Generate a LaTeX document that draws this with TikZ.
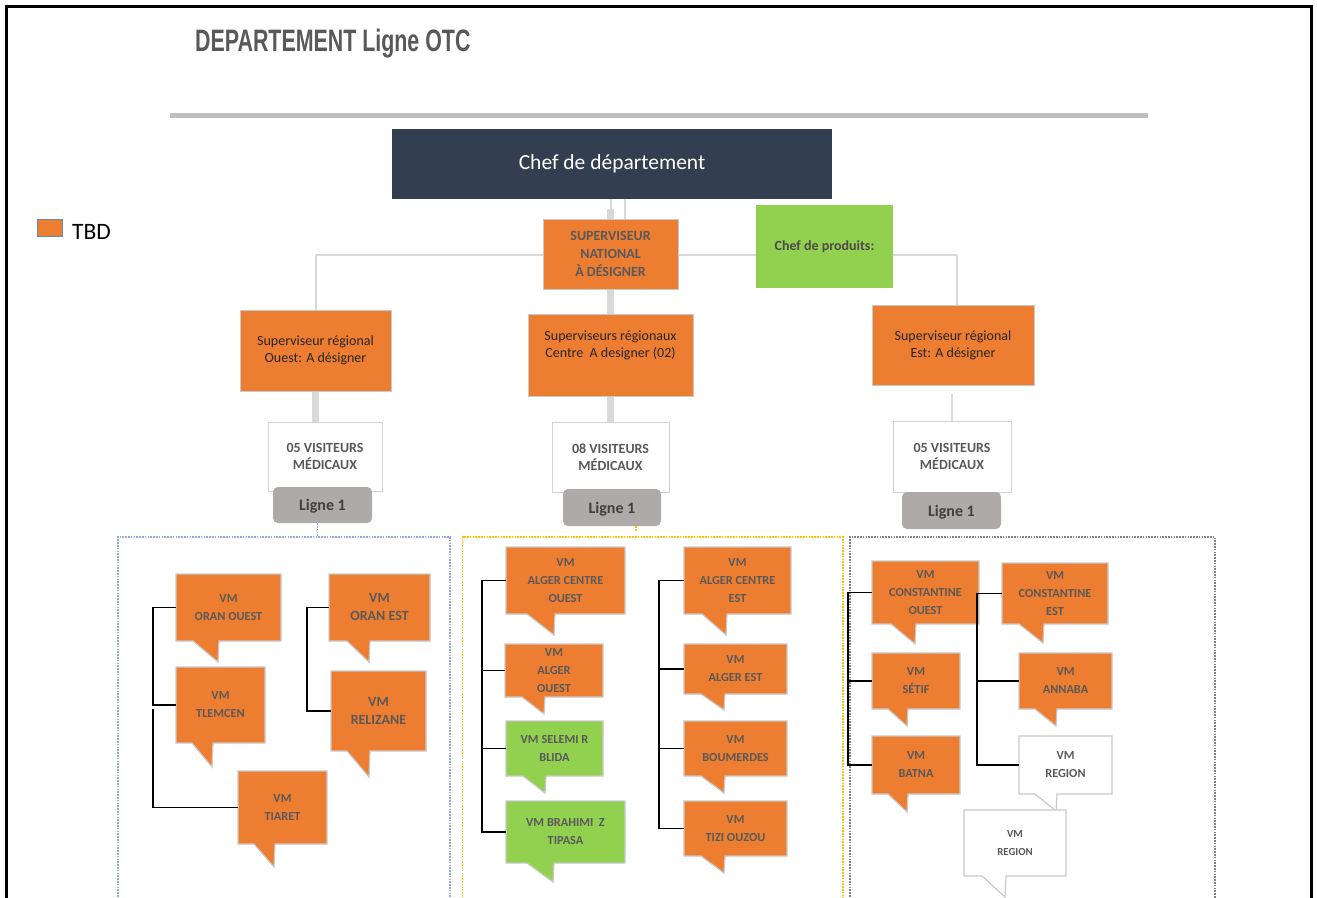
\documentclass[tikz,border=0pt]{standalone}
\usepackage{fontspec}
\usepackage{graphicx}
\setmainfont{Carlito}
\newfontfamily\titlefont{Liberation Sans}
\usetikzlibrary{calc,backgrounds}

\definecolor{tbdOrange}{HTML}{ED7D31}
\definecolor{okGreen}{HTML}{92D050}
\definecolor{slate}{HTML}{333F50}
\definecolor{txtGray}{HTML}{595959}
\definecolor{lineGray}{HTML}{C9C9C9}
\definecolor{linkGray}{HTML}{D9D9D9}
\definecolor{tagGray}{HTML}{AEAAAA}
\definecolor{ruleGray}{HTML}{BFBFBF}
\definecolor{dotBlue}{HTML}{8FAADC}
\definecolor{dotGold}{HTML}{FFC000}
\definecolor{dotGray}{HTML}{7F7F7F}
\definecolor{legendEdge}{HTML}{5B8BC4}

% speech-bubble box: name, style, left, top, right, bottom, tail start x, tip x, tip y
% the text follows the call as {...};
\newcommand\vmbubble[9]{%
  \draw[#2] (#3,#4) -- (#5,#4) -- (#5,#6) -- (#8+1,#6) -- (#8,#9) -- (#7,#6) -- (#3,#6) -- cycle;
  \node[#2 text] (#1) at ({(#3+#5)/2},{(#4+#6)/2})
    [minimum width={(#5-#3)*1pt}, minimum height={(#6-#4)*1pt}]}

\tikzset{
  bubble/.style={draw=lineGray, line width=1.2pt, line join=miter},
  vmtext/.style={inner sep=0, align=center, text=txtGray,
    font=\bfseries\fontsize{12.3}{18}\selectfont},
  vmo/.style={bubble, fill=tbdOrange},
  vmo text/.style={vmtext},
  vmob/.style={bubble, fill=tbdOrange},
  vmob text/.style={vmtext, font=\bfseries\fontsize{14}{18}\selectfont},
  vmg/.style={bubble, fill=okGreen},
  vmg text/.style={vmtext},
  vmw/.style={bubble, fill=white},
  vmw text/.style={vmtext},
  vmws/.style={bubble, fill=white},
  vmws text/.style={vmtext, font=\bfseries\fontsize{10.8}{18}\selectfont},
  regbox/.style={draw=lineGray, line width=0.6pt, fill=tbdOrange, inner sep=0},
  regtext/.style={inner sep=0, align=center, text=black!85,
    font=\fontsize{14}{17}\selectfont},
  visbox/.style={draw=lineGray!80, fill=white, line width=1pt, inner sep=0,
    align=center, text=txtGray, font=\bfseries\fontsize{14}{17}\selectfont},
  tagbox/.style={fill=tagGray, rounded corners=5pt, inner sep=0, text depth=0pt,
    text=black!75, font=\bfseries\fontsize{16}{18}\selectfont},
  linkthin/.style={linkGray, line width=2pt},
  linkthick/.style={linkGray, line width=6.5pt},
  conn/.style={black, line width=1.3pt},
  zoneblue/.style={dotBlue, line width=1.6pt, dash pattern=on 1.6pt off 1.2pt},
  zonegold/.style={dotGold, line width=1.6pt, dash pattern=on 1.6pt off 1.2pt},
  zonegray/.style={dotGray, line width=1.6pt, dash pattern=on 1.6pt off 1.2pt},
}

\begin{document}
\begin{tikzpicture}[x=1pt,y=-1pt]
\useasboundingbox (0,0) rectangle (1317,897);
\clip (0,0) rectangle (1317,897);

% page frame
\draw[line width=3pt] (6.5,905) -- (6.5,6) -- (1311.5,6) -- (1311.5,905);

% heading and rule
\node[anchor=base west, inner sep=0, text=txtGray,
  font=\titlefont\bfseries\fontsize{31}{31}\selectfont] (title) at (195,51)
  {\scalebox{0.69}[1]{DEPARTEMENT Ligne OTC}};
\draw[ruleGray, line width=4.5pt] (170,115.5) -- (1148,115.5);

% legend
\node[draw=legendEdge, fill=tbdOrange, line width=1pt, inner sep=0,
  minimum width=25pt, minimum height=17pt] (tbdkey) at (49.5,227.5) {};
\node[anchor=west, inner sep=0, font=\fontsize{23.5}{24}\selectfont] (tbdlabel) at (72,232) {TBD};

% management level
\node[fill=slate, inner sep=0, minimum width=440pt, minimum height=70pt,
  text=white, font=\fontsize{21.5}{24}\selectfont] (chef) at (612,164) {Chef de département};
\node[regbox, minimum width=135pt, minimum height=70pt, align=center, text=txtGray,
  font=\bfseries\fontsize{14}{18}\selectfont] (nat) at (610.5,254) {SUPERVISEUR\\NATIONAL\\À DÉSIGNER};
\node[fill=okGreen, inner sep=0, minimum width=137pt, minimum height=83pt, text=black!70,
  font=\bfseries\fontsize{14}{18}\selectfont] (cdp) at (824.5,246.5) {Chef de produits:};

% regional supervisors
\node[regbox, regtext, minimum width=151pt, minimum height=81pt] (regO) at (315.5,350.5)
  {Superviseur régional\\Ouest: A désigner};
\node[regbox, minimum width=165pt, minimum height=82pt] (regC) at (610.5,355) {};
\node[regtext] (regCt) at (610.5,345) {Superviseurs régionaux\\Centre~ A designer (02)};
\node[regbox, regtext, minimum width=162pt, minimum height=80pt] (regE) at (953,345)
  {Superviseur régional\\Est: A désigner};

% medical visitor teams
\node[visbox, minimum width=114pt, minimum height=69pt] (visO) at (325,456.5) {05 VISITEURS\\MÉDICAUX};
\node[visbox, minimum width=117pt, minimum height=70pt] (visC) at (610.5,457) {08 VISITEURS\\MÉDICAUX};
\node[visbox, minimum width=118pt, minimum height=71pt] (visE) at (952,456.5) {05 VISITEURS\\MÉDICAUX};

\node[tagbox, minimum width=99pt, minimum height=36pt] (tagO) at (322.5,505) {Ligne 1};
\node[tagbox, minimum width=98pt, minimum height=37pt] (tagC) at (612,507.5) {Ligne 1};
\node[tagbox, minimum width=99pt, minimum height=37pt] (tagE) at (951.5,510.5) {Ligne 1};

% dotted zones
\draw[zoneblue] (118,905) -- (118,537) -- (450,537) -- (450,905);
\draw[zonegold] (462.5,905) -- (462.5,537) -- (843,537) -- (843,905);
\draw[zonegray] (850,905) -- (850,537) -- (1215,537) -- (1215,905);
\draw[zoneblue] ([xshift=-5pt]tagO.south) -- ++(0,14);
\draw[zonegold] ([xshift=24pt]tagC.south) -- ++(0,5);

% west zone
\vmbubble{oo}{vmo}{176}{574}{281}{641}{193}{218}{662} {VM\\ORAN OUEST};
\vmbubble{oe}{vmob}{329}{574}{430}{641}{347}{369}{662} {VM\\ORAN EST};
\vmbubble{tl}{vmo}{176}{667}{265}{743}{192}{212}{767} {VM\\TLEMCEN};
\vmbubble{rz}{vmob}{331}{671}{426}{751}{347}{369}{777} {VM\\RELIZANE};
\vmbubble{ti}{vmo}{238}{771}{327}{844}{254}{274}{867} {VM\\TIARET};

% centre zone
\vmbubble{aco}{vmo}{506}{547}{625}{614}{527}{554}{635} {VM\\ALGER CENTRE\\OUEST};
\vmbubble{ao}{vmo}{505}{644}{603}{697}{522}{544}{714} {VM\\ALGER\\OUEST};
\vmbubble{sb}{vmg}{506}{721}{603}{776}{523}{545}{793} {VM SELEMI R\\BLIDA};
\vmbubble{bt}{vmg}{506}{801}{625}{863}{527}{553}{882} {VM BRAHIMI~~Z\\TIPASA};
\vmbubble{ace}{vmo}{684}{547}{791}{614}{702}{726}{635} {VM\\ALGER CENTRE\\EST};
\vmbubble{ae}{vmo}{684}{644}{787}{694}{701}{724}{710} {VM\\ALGER EST};
\vmbubble{bm}{vmo}{684}{721}{787}{776}{701}{724}{793} {VM\\BOUMERDES};
\vmbubble{tz}{vmo}{684}{801}{787}{856}{701}{724}{873} {VM\\TIZI OUZOU};

% east zone
\vmbubble{cno}{vmo}{872}{561}{979}{624}{891}{915}{644} {VM\\CONSTANTINE\\OUEST};
\vmbubble{cne}{vmo}{1002}{563}{1108}{624}{1019}{1043}{643} {VM\\CONSTANTINE\\EST};
\vmbubble{st}{vmo}{872}{653}{960}{709}{888}{907}{726} {VM\\SÉTIF};
\vmbubble{bn}{vmo}{872}{736}{960}{794}{888}{907}{812} {VM\\BATNA};
\vmbubble{an}{vmo}{1019}{653}{1112}{709}{1035}{1056}{726} {VM\\ANNABA};
\vmbubble{rg}{vmw}{1019}{736}{1112}{794}{1035}{1056}{811} {VM\\REGION};
\vmbubble{rg2}{vmws}{964}{810}{1066}{876}{982}{1005}{897} {VM\\REGION};

% bracket connectors inside the zones
\coordinate (lbar) at (153,0);
\coordinate (lbarlow) at (153,709);
\coordinate (rbar) at (307,0);
\coordinate (cbar) at (482,0);
\coordinate (dbar) at (659,0);
\coordinate (ebar) at (848,0);
\coordinate (fbar) at (977,0);

\draw[conn] (oo.west) -- (oo.west -| lbar) |- (tl.west);
\draw[conn] (lbarlow) |- (ti.west);
\draw[conn] (oe.west) -- (oe.west -| rbar) |- (rz.west);

\draw[conn] (aco.west) -- (aco.west -| cbar) |- (bt.west);
\draw[conn] (ao.west) -- (ao.west -| cbar);
\draw[conn] (sb.west) -- (sb.west -| cbar);

\draw[conn] (ace.west) -- (ace.west -| dbar) |- (tz.west);
\draw[conn] (ae.west) -- (ae.west -| dbar);
\draw[conn] (bm.west) -- (bm.west -| dbar);

\draw[conn] (cno.west) -- (cno.west -| ebar) |- (bn.west);
\draw[conn] (st.west) -- (st.west -| ebar);

\draw[conn] (cne.west) -- (cne.west -| fbar) |- (rg.west);
\draw[conn] (an.west) -- (an.west -| fbar);

% hierarchy links, behind the boxes
\begin{scope}[on background layer]
  \fill[white] (0,0) rectangle (1317,897);
  \coordinate (hl) at (315.5,255);
  \coordinate (hr) at (957,255);
  \coordinate (cj) at (625,255);
  \draw[linkthin] (hl) -- (hr);
  \draw[linkthin] (hl) -- (regO.north);
  \draw[linkthin] (hr) -- (hr |- regE.north);
  \draw[linkthin] (cj |- chef.south) -- (cj);
  \draw[linkthin] (nat.north |- chef.south) -- (nat.north);
  \draw[linkthick] ([yshift=10pt]nat.north) -- (nat.north);
  \draw[linkthick] (nat.south) -- (regC.north);
  \draw[linkthick] (regO.south) -- (regO.south |- visO.north);
  \draw[linkthick] (regC.south) -- (visC.north);
  \draw[linkthin, shorten <=9pt] (visE.north |- regE.south) -- (visE.north);
\end{scope}
\end{tikzpicture}
\end{document}
